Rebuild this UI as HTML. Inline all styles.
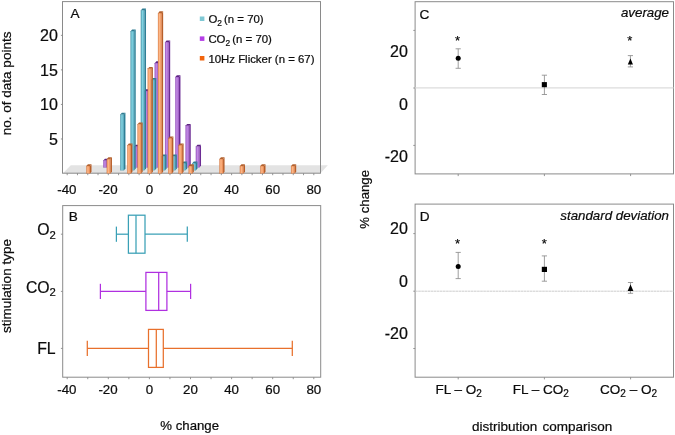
<!DOCTYPE html>
<html><head><meta charset="utf-8"><title>figure</title>
<style>
html,body{margin:0;padding:0;background:#fff;}
body{width:675px;height:435px;overflow:hidden;}
svg{display:block;will-change:transform;}
text{font-family:"Liberation Sans",sans-serif;fill:#0c0c0c;stroke:#0c0c0c;stroke-width:0.22px;}
.t13{font-size:13.3px;}
.t15{font-size:15px;}
.t16{font-size:16px;}
.ax{font-size:13.5px;}
.lg{font-size:11.4px;}
.pl{font-size:13.6px;}
.it{font-size:13.3px;font-style:italic;}
</style></head><body>
<svg width="675" height="435" viewBox="0 0 675 435">
<defs>
<linearGradient id="gc" x1="0" x2="1" y1="0" y2="0"><stop offset="0" stop-color="#3b95ab"/><stop offset="0.42" stop-color="#74cede"/><stop offset="1" stop-color="#3f9bb1"/></linearGradient>
<linearGradient id="gp" x1="0" x2="1" y1="0" y2="0"><stop offset="0" stop-color="#9848c6"/><stop offset="0.42" stop-color="#ba7ce0"/><stop offset="1" stop-color="#9446c0"/></linearGradient>
<linearGradient id="go" x1="0" x2="1" y1="0" y2="0"><stop offset="0" stop-color="#ea8040"/><stop offset="0.42" stop-color="#fdae78"/><stop offset="1" stop-color="#e67a3a"/></linearGradient>
<pattern id="dots" x="0" y="0" width="1.8" height="1.6" patternUnits="userSpaceOnUse"><rect x="0.45" y="0.4" width="0.95" height="0.8" fill="#fff" fill-opacity="0.42"/></pattern>
</defs>
<rect x="0" y="0" width="675" height="435" fill="#fff"/>

<polygon points="63.0,173.2 70.8,165.2 327.8,165.2 320.5,173.2" fill="#e3e3e3"/>
<rect x="62.5" y="1.6" width="258.0" height="171.6" fill="none" stroke="#8a8a8a" stroke-width="1"/>
<polygon points="107.00,167.40 108.50,165.60 108.50,158.65 107.00,160.45" fill="#6c2c94"/>
<polygon points="103.40,160.45 104.90,158.65 108.50,158.65 107.00,160.45" fill="#5e2484"/>
<rect x="103.40" y="160.45" width="3.6" height="6.95" fill="url(#gp)" stroke="#6c2c94" stroke-width="0.35" stroke-opacity="0.7"/>
<g transform="translate(103.40,160.45)"><rect x="0" y="0.6" width="3.6" height="6.35" fill="url(#dots)"/></g>
<polygon points="137.84,167.40 139.34,165.60 139.34,144.75 137.84,146.55" fill="#6c2c94"/>
<polygon points="134.24,146.55 135.74,144.75 139.34,144.75 137.84,146.55" fill="#5e2484"/>
<rect x="134.24" y="146.55" width="3.6" height="20.85" fill="url(#gp)" stroke="#6c2c94" stroke-width="0.35" stroke-opacity="0.7"/>
<g transform="translate(134.24,146.55)"><rect x="0" y="0.6" width="3.6" height="20.25" fill="url(#dots)"/></g>
<polygon points="148.12,167.40 149.62,165.60 149.62,89.15 148.12,90.95" fill="#6c2c94"/>
<polygon points="144.52,90.95 146.02,89.15 149.62,89.15 148.12,90.95" fill="#5e2484"/>
<rect x="144.52" y="90.95" width="3.6" height="76.45" fill="url(#gp)" stroke="#6c2c94" stroke-width="0.35" stroke-opacity="0.7"/>
<g transform="translate(144.52,90.95)"><rect x="0" y="0.6" width="3.6" height="75.85" fill="url(#dots)"/></g>
<polygon points="158.40,167.40 159.90,165.60 159.90,61.35 158.40,63.15" fill="#6c2c94"/>
<polygon points="154.80,63.15 156.30,61.35 159.90,61.35 158.40,63.15" fill="#5e2484"/>
<rect x="154.80" y="63.15" width="3.6" height="104.25" fill="url(#gp)" stroke="#6c2c94" stroke-width="0.35" stroke-opacity="0.7"/>
<g transform="translate(154.80,63.15)"><rect x="0" y="0.6" width="3.6" height="103.65" fill="url(#dots)"/></g>
<polygon points="168.68,167.40 170.18,165.60 170.18,40.50 168.68,42.30" fill="#6c2c94"/>
<polygon points="165.08,42.30 166.58,40.50 170.18,40.50 168.68,42.30" fill="#5e2484"/>
<rect x="165.08" y="42.30" width="3.6" height="125.10" fill="url(#gp)" stroke="#6c2c94" stroke-width="0.35" stroke-opacity="0.7"/>
<g transform="translate(165.08,42.30)"><rect x="0" y="0.6" width="3.6" height="124.50" fill="url(#dots)"/></g>
<polygon points="178.96,167.40 180.46,165.60 180.46,75.25 178.96,77.05" fill="#6c2c94"/>
<polygon points="175.36,77.05 176.86,75.25 180.46,75.25 178.96,77.05" fill="#5e2484"/>
<rect x="175.36" y="77.05" width="3.6" height="90.35" fill="url(#gp)" stroke="#6c2c94" stroke-width="0.35" stroke-opacity="0.7"/>
<g transform="translate(175.36,77.05)"><rect x="0" y="0.6" width="3.6" height="89.75" fill="url(#dots)"/></g>
<polygon points="189.24,167.40 190.74,165.60 190.74,123.90 189.24,125.70" fill="#6c2c94"/>
<polygon points="185.64,125.70 187.14,123.90 190.74,123.90 189.24,125.70" fill="#5e2484"/>
<rect x="185.64" y="125.70" width="3.6" height="41.70" fill="url(#gp)" stroke="#6c2c94" stroke-width="0.35" stroke-opacity="0.7"/>
<g transform="translate(185.64,125.70)"><rect x="0" y="0.6" width="3.6" height="41.10" fill="url(#dots)"/></g>
<polygon points="199.52,167.40 201.02,165.60 201.02,144.75 199.52,146.55" fill="#6c2c94"/>
<polygon points="195.92,146.55 197.42,144.75 201.02,144.75 199.52,146.55" fill="#5e2484"/>
<rect x="195.92" y="146.55" width="3.6" height="20.85" fill="url(#gp)" stroke="#6c2c94" stroke-width="0.35" stroke-opacity="0.7"/>
<g transform="translate(195.92,146.55)"><rect x="0" y="0.6" width="3.6" height="20.25" fill="url(#dots)"/></g>
<polygon points="123.95,170.20 125.45,168.40 125.45,112.80 123.95,114.60" fill="#2f8097"/>
<polygon points="120.35,114.60 121.85,112.80 125.45,112.80 123.95,114.60" fill="#2f7c92"/>
<rect x="120.35" y="114.60" width="3.6" height="55.60" fill="url(#gc)" stroke="#2f8097" stroke-width="0.35" stroke-opacity="0.7"/>
<g transform="translate(120.35,114.60)"><rect x="0" y="0.6" width="3.6" height="55.00" fill="url(#dots)"/></g>
<polygon points="134.23,170.20 135.73,168.40 135.73,29.40 134.23,31.20" fill="#2f8097"/>
<polygon points="130.63,31.20 132.13,29.40 135.73,29.40 134.23,31.20" fill="#2f7c92"/>
<rect x="130.63" y="31.20" width="3.6" height="139.00" fill="url(#gc)" stroke="#2f8097" stroke-width="0.35" stroke-opacity="0.7"/>
<g transform="translate(130.63,31.20)"><rect x="0" y="0.6" width="3.6" height="138.40" fill="url(#dots)"/></g>
<polygon points="144.51,170.20 146.01,168.40 146.01,8.55 144.51,10.35" fill="#2f8097"/>
<polygon points="140.91,10.35 142.41,8.55 146.01,8.55 144.51,10.35" fill="#2f7c92"/>
<rect x="140.91" y="10.35" width="3.6" height="159.85" fill="url(#gc)" stroke="#2f8097" stroke-width="0.35" stroke-opacity="0.7"/>
<g transform="translate(140.91,10.35)"><rect x="0" y="0.6" width="3.6" height="159.25" fill="url(#dots)"/></g>
<polygon points="154.79,170.20 156.29,168.40 156.29,78.05 154.79,79.85" fill="#2f8097"/>
<polygon points="151.19,79.85 152.69,78.05 156.29,78.05 154.79,79.85" fill="#2f7c92"/>
<rect x="151.19" y="79.85" width="3.6" height="90.35" fill="url(#gc)" stroke="#2f8097" stroke-width="0.35" stroke-opacity="0.7"/>
<g transform="translate(151.19,79.85)"><rect x="0" y="0.6" width="3.6" height="89.75" fill="url(#dots)"/></g>
<polygon points="165.07,170.20 166.57,168.40 166.57,154.50 165.07,156.30" fill="#2f8097"/>
<polygon points="161.47,156.30 162.97,154.50 166.57,154.50 165.07,156.30" fill="#2f7c92"/>
<rect x="161.47" y="156.30" width="3.6" height="13.90" fill="url(#gc)" stroke="#2f8097" stroke-width="0.35" stroke-opacity="0.7"/>
<g transform="translate(161.47,156.30)"><rect x="0" y="0.6" width="3.6" height="13.30" fill="url(#dots)"/></g>
<polygon points="175.35,170.20 176.85,168.40 176.85,154.50 175.35,156.30" fill="#2f8097"/>
<polygon points="171.75,156.30 173.25,154.50 176.85,154.50 175.35,156.30" fill="#2f7c92"/>
<rect x="171.75" y="156.30" width="3.6" height="13.90" fill="url(#gc)" stroke="#2f8097" stroke-width="0.35" stroke-opacity="0.7"/>
<g transform="translate(171.75,156.30)"><rect x="0" y="0.6" width="3.6" height="13.30" fill="url(#dots)"/></g>
<polygon points="185.63,170.20 187.13,168.40 187.13,161.45 185.63,163.25" fill="#2f8097"/>
<polygon points="182.03,163.25 183.53,161.45 187.13,161.45 185.63,163.25" fill="#2f7c92"/>
<rect x="182.03" y="163.25" width="3.6" height="6.95" fill="url(#gc)" stroke="#2f8097" stroke-width="0.35" stroke-opacity="0.7"/>
<g transform="translate(182.03,163.25)"><rect x="0" y="0.6" width="3.6" height="6.35" fill="url(#dots)"/></g>
<polygon points="195.91,170.20 197.41,168.40 197.41,161.45 195.91,163.25" fill="#2f8097"/>
<polygon points="192.31,163.25 193.81,161.45 197.41,161.45 195.91,163.25" fill="#2f7c92"/>
<rect x="192.31" y="163.25" width="3.6" height="6.95" fill="url(#gc)" stroke="#2f8097" stroke-width="0.35" stroke-opacity="0.7"/>
<g transform="translate(192.31,163.25)"><rect x="0" y="0.6" width="3.6" height="6.35" fill="url(#dots)"/></g>
<polygon points="90.00,173.60 91.50,171.80 91.50,164.25 90.00,166.05" fill="#b85f2a"/>
<polygon points="86.40,166.05 87.90,164.25 91.50,164.25 90.00,166.05" fill="#b3622f"/>
<rect x="86.40" y="166.05" width="3.6" height="7.55" fill="url(#go)" stroke="#b85f2a" stroke-width="0.35" stroke-opacity="0.7"/>
<g transform="translate(86.40,166.05)"><rect x="0" y="0.6" width="3.6" height="6.95" fill="url(#dots)"/></g>
<polygon points="110.47,173.60 111.97,171.80 111.97,157.30 110.47,159.10" fill="#b85f2a"/>
<polygon points="106.87,159.10 108.37,157.30 111.97,157.30 110.47,159.10" fill="#b3622f"/>
<rect x="106.87" y="159.10" width="3.6" height="14.50" fill="url(#go)" stroke="#b85f2a" stroke-width="0.35" stroke-opacity="0.7"/>
<g transform="translate(106.87,159.10)"><rect x="0" y="0.6" width="3.6" height="13.90" fill="url(#dots)"/></g>
<polygon points="130.94,173.60 132.44,171.80 132.44,143.40 130.94,145.20" fill="#b85f2a"/>
<polygon points="127.34,145.20 128.84,143.40 132.44,143.40 130.94,145.20" fill="#b3622f"/>
<rect x="127.34" y="145.20" width="3.6" height="28.40" fill="url(#go)" stroke="#b85f2a" stroke-width="0.35" stroke-opacity="0.7"/>
<g transform="translate(127.34,145.20)"><rect x="0" y="0.6" width="3.6" height="27.80" fill="url(#dots)"/></g>
<polygon points="141.18,173.60 142.68,171.80 142.68,122.55 141.18,124.35" fill="#b85f2a"/>
<polygon points="137.57,124.35 139.07,122.55 142.68,122.55 141.18,124.35" fill="#b3622f"/>
<rect x="137.57" y="124.35" width="3.6" height="49.25" fill="url(#go)" stroke="#b85f2a" stroke-width="0.35" stroke-opacity="0.7"/>
<g transform="translate(137.57,124.35)"><rect x="0" y="0.6" width="3.6" height="48.65" fill="url(#dots)"/></g>
<polygon points="151.41,173.60 152.91,171.80 152.91,66.95 151.41,68.75" fill="#b85f2a"/>
<polygon points="147.81,68.75 149.31,66.95 152.91,66.95 151.41,68.75" fill="#b3622f"/>
<rect x="147.81" y="68.75" width="3.6" height="104.85" fill="url(#go)" stroke="#b85f2a" stroke-width="0.35" stroke-opacity="0.7"/>
<g transform="translate(147.81,68.75)"><rect x="0" y="0.6" width="3.6" height="104.25" fill="url(#dots)"/></g>
<polygon points="161.65,173.60 163.15,171.80 163.15,11.35 161.65,13.15" fill="#b85f2a"/>
<polygon points="158.05,13.15 159.55,11.35 163.15,11.35 161.65,13.15" fill="#b3622f"/>
<rect x="158.05" y="13.15" width="3.6" height="160.45" fill="url(#go)" stroke="#b85f2a" stroke-width="0.35" stroke-opacity="0.7"/>
<g transform="translate(158.05,13.15)"><rect x="0" y="0.6" width="3.6" height="159.85" fill="url(#dots)"/></g>
<polygon points="171.88,173.60 173.38,171.80 173.38,136.45 171.88,138.25" fill="#b85f2a"/>
<polygon points="168.28,138.25 169.78,136.45 173.38,136.45 171.88,138.25" fill="#b3622f"/>
<rect x="168.28" y="138.25" width="3.6" height="35.35" fill="url(#go)" stroke="#b85f2a" stroke-width="0.35" stroke-opacity="0.7"/>
<g transform="translate(168.28,138.25)"><rect x="0" y="0.6" width="3.6" height="34.75" fill="url(#dots)"/></g>
<polygon points="182.12,173.60 183.62,171.80 183.62,143.40 182.12,145.20" fill="#b85f2a"/>
<polygon points="178.52,145.20 180.02,143.40 183.62,143.40 182.12,145.20" fill="#b3622f"/>
<rect x="178.52" y="145.20" width="3.6" height="28.40" fill="url(#go)" stroke="#b85f2a" stroke-width="0.35" stroke-opacity="0.7"/>
<g transform="translate(178.52,145.20)"><rect x="0" y="0.6" width="3.6" height="27.80" fill="url(#dots)"/></g>
<polygon points="192.35,173.60 193.85,171.80 193.85,164.25 192.35,166.05" fill="#b85f2a"/>
<polygon points="188.75,166.05 190.25,164.25 193.85,164.25 192.35,166.05" fill="#b3622f"/>
<rect x="188.75" y="166.05" width="3.6" height="7.55" fill="url(#go)" stroke="#b85f2a" stroke-width="0.35" stroke-opacity="0.7"/>
<g transform="translate(188.75,166.05)"><rect x="0" y="0.6" width="3.6" height="6.95" fill="url(#dots)"/></g>
<polygon points="223.06,173.60 224.56,171.80 224.56,157.30 223.06,159.10" fill="#b85f2a"/>
<polygon points="219.46,159.10 220.96,157.30 224.56,157.30 223.06,159.10" fill="#b3622f"/>
<rect x="219.46" y="159.10" width="3.6" height="14.50" fill="url(#go)" stroke="#b85f2a" stroke-width="0.35" stroke-opacity="0.7"/>
<g transform="translate(219.46,159.10)"><rect x="0" y="0.6" width="3.6" height="13.90" fill="url(#dots)"/></g>
<polygon points="243.53,173.60 245.03,171.80 245.03,164.25 243.53,166.05" fill="#b85f2a"/>
<polygon points="239.93,166.05 241.43,164.25 245.03,164.25 243.53,166.05" fill="#b3622f"/>
<rect x="239.93" y="166.05" width="3.6" height="7.55" fill="url(#go)" stroke="#b85f2a" stroke-width="0.35" stroke-opacity="0.7"/>
<g transform="translate(239.93,166.05)"><rect x="0" y="0.6" width="3.6" height="6.95" fill="url(#dots)"/></g>
<polygon points="264.00,173.60 265.50,171.80 265.50,164.25 264.00,166.05" fill="#b85f2a"/>
<polygon points="260.40,166.05 261.90,164.25 265.50,164.25 264.00,166.05" fill="#b3622f"/>
<rect x="260.40" y="166.05" width="3.6" height="7.55" fill="url(#go)" stroke="#b85f2a" stroke-width="0.35" stroke-opacity="0.7"/>
<g transform="translate(260.40,166.05)"><rect x="0" y="0.6" width="3.6" height="6.95" fill="url(#dots)"/></g>
<polygon points="294.70,173.60 296.20,171.80 296.20,164.25 294.70,166.05" fill="#b85f2a"/>
<polygon points="291.10,166.05 292.60,164.25 296.20,164.25 294.70,166.05" fill="#b3622f"/>
<rect x="291.10" y="166.05" width="3.6" height="7.55" fill="url(#go)" stroke="#b85f2a" stroke-width="0.35" stroke-opacity="0.7"/>
<g transform="translate(291.10,166.05)"><rect x="0" y="0.6" width="3.6" height="6.95" fill="url(#dots)"/></g>
<line x1="67.20" y1="173.2" x2="67.20" y2="175.2" stroke="#8a8a8a" stroke-width="0.9"/>
<line x1="77.47" y1="173.2" x2="77.47" y2="175.2" stroke="#8a8a8a" stroke-width="0.9"/>
<line x1="87.75" y1="173.2" x2="87.75" y2="175.2" stroke="#8a8a8a" stroke-width="0.9"/>
<line x1="98.03" y1="173.2" x2="98.03" y2="175.2" stroke="#8a8a8a" stroke-width="0.9"/>
<line x1="108.30" y1="173.2" x2="108.30" y2="175.2" stroke="#8a8a8a" stroke-width="0.9"/>
<line x1="118.58" y1="173.2" x2="118.58" y2="175.2" stroke="#8a8a8a" stroke-width="0.9"/>
<line x1="128.85" y1="173.2" x2="128.85" y2="175.2" stroke="#8a8a8a" stroke-width="0.9"/>
<line x1="139.12" y1="173.2" x2="139.12" y2="175.2" stroke="#8a8a8a" stroke-width="0.9"/>
<line x1="149.40" y1="173.2" x2="149.40" y2="175.2" stroke="#8a8a8a" stroke-width="0.9"/>
<line x1="159.68" y1="173.2" x2="159.68" y2="175.2" stroke="#8a8a8a" stroke-width="0.9"/>
<line x1="169.95" y1="173.2" x2="169.95" y2="175.2" stroke="#8a8a8a" stroke-width="0.9"/>
<line x1="180.23" y1="173.2" x2="180.23" y2="175.2" stroke="#8a8a8a" stroke-width="0.9"/>
<line x1="190.50" y1="173.2" x2="190.50" y2="175.2" stroke="#8a8a8a" stroke-width="0.9"/>
<line x1="200.78" y1="173.2" x2="200.78" y2="175.2" stroke="#8a8a8a" stroke-width="0.9"/>
<line x1="211.05" y1="173.2" x2="211.05" y2="175.2" stroke="#8a8a8a" stroke-width="0.9"/>
<line x1="221.33" y1="173.2" x2="221.33" y2="175.2" stroke="#8a8a8a" stroke-width="0.9"/>
<line x1="231.60" y1="173.2" x2="231.60" y2="175.2" stroke="#8a8a8a" stroke-width="0.9"/>
<line x1="241.88" y1="173.2" x2="241.88" y2="175.2" stroke="#8a8a8a" stroke-width="0.9"/>
<line x1="252.15" y1="173.2" x2="252.15" y2="175.2" stroke="#8a8a8a" stroke-width="0.9"/>
<line x1="262.43" y1="173.2" x2="262.43" y2="175.2" stroke="#8a8a8a" stroke-width="0.9"/>
<line x1="272.70" y1="173.2" x2="272.70" y2="175.2" stroke="#8a8a8a" stroke-width="0.9"/>
<line x1="282.98" y1="173.2" x2="282.98" y2="175.2" stroke="#8a8a8a" stroke-width="0.9"/>
<line x1="293.25" y1="173.2" x2="293.25" y2="175.2" stroke="#8a8a8a" stroke-width="0.9"/>
<line x1="303.52" y1="173.2" x2="303.52" y2="175.2" stroke="#8a8a8a" stroke-width="0.9"/>
<line x1="313.80" y1="173.2" x2="313.80" y2="175.2" stroke="#8a8a8a" stroke-width="0.9"/>
<text class="t13" x="66.90" y="194.2" text-anchor="middle">-40</text>
<text class="t13" x="108.00" y="194.2" text-anchor="middle">-20</text>
<text class="t13" x="149.40" y="194.2" text-anchor="middle">0</text>
<text class="t13" x="190.50" y="194.2" text-anchor="middle">20</text>
<text class="t13" x="231.60" y="194.2" text-anchor="middle">40</text>
<text class="t13" x="272.70" y="194.2" text-anchor="middle">60</text>
<text class="t13" x="313.80" y="194.2" text-anchor="middle">80</text>
<line x1="60.9" y1="138.97" x2="62.5" y2="138.97" stroke="#8a8a8a" stroke-width="0.9"/>
<text class="t16" x="57.9" y="144.77" text-anchor="end">5</text>
<line x1="60.9" y1="104.43" x2="62.5" y2="104.43" stroke="#8a8a8a" stroke-width="0.9"/>
<text class="t16" x="57.9" y="110.23" text-anchor="end">10</text>
<line x1="60.9" y1="69.89" x2="62.5" y2="69.89" stroke="#8a8a8a" stroke-width="0.9"/>
<text class="t16" x="57.9" y="75.69" text-anchor="end">15</text>
<line x1="60.9" y1="35.36" x2="62.5" y2="35.36" stroke="#8a8a8a" stroke-width="0.9"/>
<text class="t16" x="57.9" y="41.16" text-anchor="end">20</text>
<text class="pl" x="70.4" y="18.3">A</text>
<rect x="199.8" y="16.5" width="4.6" height="4.5" fill="#7fc8d4"/>
<text class="lg" x="208.4" y="23.10">O<tspan font-size="8.4" dy="2.6">2</tspan><tspan dy="-2.6" dx="2.1">(n = 70)</tspan></text>
<rect x="199.8" y="36.4" width="4.6" height="4.5" fill="#b43ee6"/>
<text class="lg" x="208.4" y="43.00">CO<tspan font-size="8.4" dy="2.6">2</tspan><tspan dy="-2.6" dx="2.1">(n = 70)</tspan></text>
<rect x="199.8" y="56.0" width="4.6" height="4.5" fill="#f2640c"/>
<text class="lg" x="208.4" y="62.60">10Hz Flicker (n = 67)</text>
<text class="ax" transform="translate(10.8,83.4) rotate(-90)" text-anchor="middle">no. of data points</text>
<rect x="62.7" y="205.6" width="258.0" height="171.6" fill="none" stroke="#8a8a8a" stroke-width="1"/>
<line x1="67.20" y1="377.2" x2="67.20" y2="379.2" stroke="#8a8a8a" stroke-width="0.9"/>
<line x1="87.75" y1="377.2" x2="87.75" y2="379.2" stroke="#8a8a8a" stroke-width="0.9"/>
<line x1="108.30" y1="377.2" x2="108.30" y2="379.2" stroke="#8a8a8a" stroke-width="0.9"/>
<line x1="128.85" y1="377.2" x2="128.85" y2="379.2" stroke="#8a8a8a" stroke-width="0.9"/>
<line x1="149.40" y1="377.2" x2="149.40" y2="379.2" stroke="#8a8a8a" stroke-width="0.9"/>
<line x1="169.95" y1="377.2" x2="169.95" y2="379.2" stroke="#8a8a8a" stroke-width="0.9"/>
<line x1="190.50" y1="377.2" x2="190.50" y2="379.2" stroke="#8a8a8a" stroke-width="0.9"/>
<line x1="211.05" y1="377.2" x2="211.05" y2="379.2" stroke="#8a8a8a" stroke-width="0.9"/>
<line x1="231.60" y1="377.2" x2="231.60" y2="379.2" stroke="#8a8a8a" stroke-width="0.9"/>
<line x1="252.15" y1="377.2" x2="252.15" y2="379.2" stroke="#8a8a8a" stroke-width="0.9"/>
<line x1="272.70" y1="377.2" x2="272.70" y2="379.2" stroke="#8a8a8a" stroke-width="0.9"/>
<line x1="293.25" y1="377.2" x2="293.25" y2="379.2" stroke="#8a8a8a" stroke-width="0.9"/>
<line x1="313.80" y1="377.2" x2="313.80" y2="379.2" stroke="#8a8a8a" stroke-width="0.9"/>
<text class="t13" x="66.90" y="394.2" text-anchor="middle">-40</text>
<text class="t13" x="108.00" y="394.2" text-anchor="middle">-20</text>
<text class="t13" x="149.40" y="394.2" text-anchor="middle">0</text>
<text class="t13" x="190.50" y="394.2" text-anchor="middle">20</text>
<text class="t13" x="231.60" y="394.2" text-anchor="middle">40</text>
<text class="t13" x="272.70" y="394.2" text-anchor="middle">60</text>
<text class="t13" x="313.80" y="394.2" text-anchor="middle">80</text>
<g stroke="#3aa0b6" stroke-width="1.25" fill="none">
<line x1="116.4" y1="234.2" x2="128.4" y2="234.2"/><line x1="145.0" y1="234.2" x2="187.3" y2="234.2"/>
<line x1="116.4" y1="226.6" x2="116.4" y2="241.79999999999998"/><line x1="187.3" y1="226.6" x2="187.3" y2="241.79999999999998"/>
<rect x="128.4" y="215.2" width="16.599999999999994" height="38"/>
<line x1="136.0" y1="215.2" x2="136.0" y2="253.2"/>
</g>
<g stroke="#b030e0" stroke-width="1.25" fill="none">
<line x1="100.4" y1="291.4" x2="145.9" y2="291.4"/><line x1="166.9" y1="291.4" x2="190.6" y2="291.4"/>
<line x1="100.4" y1="283.79999999999995" x2="100.4" y2="299.0"/><line x1="190.6" y1="283.79999999999995" x2="190.6" y2="299.0"/>
<rect x="145.9" y="272.4" width="21.0" height="38"/>
<line x1="158.7" y1="272.4" x2="158.7" y2="310.4"/>
</g>
<g stroke="#e8702c" stroke-width="1.25" fill="none">
<line x1="87.3" y1="348.4" x2="148.5" y2="348.4"/><line x1="163.3" y1="348.4" x2="292.3" y2="348.4"/>
<line x1="87.3" y1="340.79999999999995" x2="87.3" y2="356.0"/><line x1="292.3" y1="340.79999999999995" x2="292.3" y2="356.0"/>
<rect x="148.5" y="329.4" width="14.800000000000011" height="38"/>
<line x1="156.3" y1="329.4" x2="156.3" y2="367.4"/>
</g>
<line x1="60.900000000000006" y1="234.2" x2="62.7" y2="234.2" stroke="#8a8a8a" stroke-width="0.9"/>
<line x1="60.900000000000006" y1="291.4" x2="62.7" y2="291.4" stroke="#8a8a8a" stroke-width="0.9"/>
<line x1="60.900000000000006" y1="348.4" x2="62.7" y2="348.4" stroke="#8a8a8a" stroke-width="0.9"/>
<text style="font-size:15.8px" x="55.9" y="235.4" text-anchor="end">O<tspan font-size="11.3" dy="3.1">2</tspan></text>
<text style="font-size:15.8px" x="55.9" y="292.6" text-anchor="end">CO<tspan font-size="11.3" dy="3.1">2</tspan></text>
<text style="font-size:15.8px" x="55.6" y="354.4" text-anchor="end">FL</text>
<text class="pl" x="68.8" y="221.2">B</text>
<text class="ax" transform="translate(10.9,286) rotate(-90)" text-anchor="middle">stimulation type</text>
<text class="ax" style="font-size:13.2px" x="189.7" y="430.3" text-anchor="middle">% change</text>
<rect x="415.1" y="1.7" width="258.4" height="172.20000000000002" fill="none" stroke="#8a8a8a" stroke-width="1"/>
<line x1="415.1" y1="87.9" x2="673.5" y2="87.9" stroke="#dcdcdc" stroke-width="1.3"/>
<line x1="413.3" y1="30.4" x2="415.1" y2="30.4" stroke="#8a8a8a" stroke-width="0.9"/>
<line x1="413.3" y1="88" x2="415.1" y2="88" stroke="#8a8a8a" stroke-width="0.9"/>
<line x1="413.3" y1="145.4" x2="415.1" y2="145.4" stroke="#8a8a8a" stroke-width="0.9"/>
<line x1="458.2" y1="173.9" x2="458.2" y2="176.1" stroke="#8a8a8a" stroke-width="0.9"/>
<line x1="544.4" y1="173.9" x2="544.4" y2="176.1" stroke="#8a8a8a" stroke-width="0.9"/>
<line x1="630.6" y1="173.9" x2="630.6" y2="176.1" stroke="#8a8a8a" stroke-width="0.9"/>
<text class="t16" x="407.9" y="57.2" text-anchor="end">20</text>
<text class="t16" x="407.9" y="109.8" text-anchor="end">0</text>
<text class="t16" x="407.9" y="162.3" text-anchor="end">-20</text>
<text class="pl" x="419.6" y="19">C</text>
<text class="it" x="669" y="17.2" text-anchor="end">average</text>
<g stroke="#8c8c8c" stroke-width="0.85" fill="none"><line x1="458.2" y1="48.8" x2="458.2" y2="68.3"/><line x1="455.59999999999997" y1="48.8" x2="460.8" y2="48.8"/><line x1="455.59999999999997" y1="68.3" x2="460.8" y2="68.3"/></g>
<circle cx="458.2" cy="58.3" r="2.5" fill="#000"/>
<text x="457.6" y="45.2" text-anchor="middle" style="font-size:13px">*</text>
<g stroke="#8c8c8c" stroke-width="0.85" fill="none"><line x1="544.4" y1="75.2" x2="544.4" y2="94.5"/><line x1="541.8" y1="75.2" x2="547.0" y2="75.2"/><line x1="541.8" y1="94.5" x2="547.0" y2="94.5"/></g>
<rect x="541.8" y="82.1" width="5.1" height="5.1" fill="#000"/>
<g stroke="#8c8c8c" stroke-width="0.85" fill="none"><line x1="630.4" y1="55.6" x2="630.4" y2="66.9"/><line x1="627.8" y1="55.6" x2="633.0" y2="55.6"/><line x1="627.8" y1="66.9" x2="633.0" y2="66.9"/></g>
<polygon points="630.4,58.4 633,64.4 627.8,64.4" fill="#000"/>
<text x="629.9" y="45.1" text-anchor="middle" style="font-size:13px">*</text>
<rect x="415.1" y="204.1" width="258.4" height="173.1" fill="none" stroke="#8a8a8a" stroke-width="1"/>
<line x1="415.1" y1="291.2" x2="673.5" y2="291.2" stroke="#c6c6c6" stroke-width="0.9" stroke-dasharray="2.6 0.5"/>
<line x1="413.3" y1="233.6" x2="415.1" y2="233.6" stroke="#8a8a8a" stroke-width="0.9"/>
<line x1="413.3" y1="291.2" x2="415.1" y2="291.2" stroke="#8a8a8a" stroke-width="0.9"/>
<line x1="413.3" y1="348.5" x2="415.1" y2="348.5" stroke="#8a8a8a" stroke-width="0.9"/>
<line x1="458.2" y1="377.2" x2="458.2" y2="379.4" stroke="#8a8a8a" stroke-width="0.9"/>
<line x1="544.4" y1="377.2" x2="544.4" y2="379.4" stroke="#8a8a8a" stroke-width="0.9"/>
<line x1="630.6" y1="377.2" x2="630.6" y2="379.4" stroke="#8a8a8a" stroke-width="0.9"/>
<text class="t16" x="407.9" y="233.9" text-anchor="end">20</text>
<text class="t16" x="407.9" y="286.6" text-anchor="end">0</text>
<text class="t16" x="407.9" y="339.3" text-anchor="end">-20</text>
<text class="pl" x="419.7" y="221">D</text>
<text class="it" x="669" y="219.6" text-anchor="end">standard deviation</text>
<g stroke="#8c8c8c" stroke-width="0.85" fill="none"><line x1="458.2" y1="252.4" x2="458.2" y2="278.6"/><line x1="455.59999999999997" y1="252.4" x2="460.8" y2="252.4"/><line x1="455.59999999999997" y1="278.6" x2="460.8" y2="278.6"/></g>
<circle cx="458.2" cy="266.5" r="2.5" fill="#000"/>
<text x="457.6" y="247.9" text-anchor="middle" style="font-size:13px">*</text>
<g stroke="#8c8c8c" stroke-width="0.85" fill="none"><line x1="544.4" y1="255.9" x2="544.4" y2="281.2"/><line x1="541.8" y1="255.9" x2="547.0" y2="255.9"/><line x1="541.8" y1="281.2" x2="547.0" y2="281.2"/></g>
<rect x="541.8" y="266.8" width="5.2" height="5.2" fill="#000"/>
<text x="544.3" y="247.9" text-anchor="middle" style="font-size:13px">*</text>
<g stroke="#8c8c8c" stroke-width="0.85" fill="none"><line x1="630.5" y1="282.5" x2="630.5" y2="293.3"/><line x1="627.9" y1="282.5" x2="633.1" y2="282.5"/><line x1="627.9" y1="293.3" x2="633.1" y2="293.3"/></g>
<polygon points="630.5,284.5 633.4,291.1 627.6,291.1" fill="#000"/>
<text class="ax" x="435.4" y="394">FL – O<tspan font-size="10" dy="3.2">2</tspan></text>
<text class="ax" x="512.7" y="394">FL – CO<tspan font-size="10" dy="3.2">2</tspan></text>
<text class="ax" x="600.1" y="394">CO<tspan font-size="10" dy="3.2">2</tspan><tspan dy="-3.2"> – O</tspan><tspan font-size="10" dy="3.2">2</tspan></text>
<text class="ax" x="542.2" y="431" text-anchor="middle" word-spacing="1.5">distribution comparison</text>
<text class="ax" style="font-size:13.2px" transform="translate(368.6,199.3) rotate(-90)" text-anchor="middle">% change</text>
</svg></body></html>
